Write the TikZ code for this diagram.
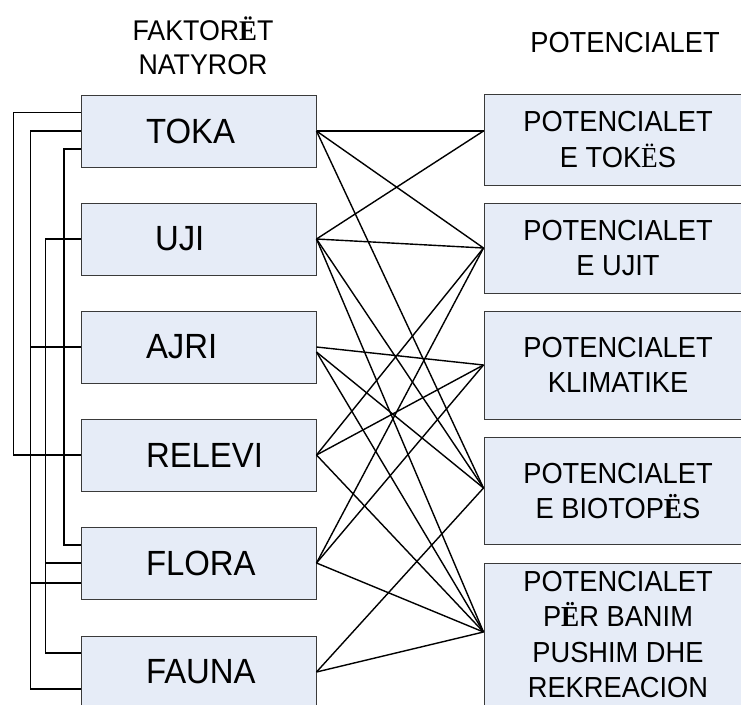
\documentclass[tikz,border=0pt]{standalone}
\usepackage{fontspec}
\setmainfont{Liberation Sans}[FakeStretch=0.94]
\newfontfamily\serifE{Liberation Serif}[FakeStretch=0.94]
\newcommand{\EdB}{{\serifE\bfseries Ë}}
\newcommand{\EdR}{{\serifE Ë}}
\newcommand{\lefttext}[2]{\makebox[235pt][l]{\hspace{#1}#2}}
\definecolor{boxfill}{HTML}{E6ECF7}
\definecolor{boxline}{HTML}{3A3A3A}
\begin{document}
\begin{tikzpicture}[x=1pt,y=-1pt,
  lbox/.style={draw=boxline, line width=1pt, fill=boxfill, minimum width=235pt,
    minimum height=72pt, inner sep=0pt, font=\fontsize{35}{42}\selectfont},
  rbox/.style={draw=boxline, line width=1pt, fill=boxfill, minimum width=268pt,
    inner sep=0pt, align=center, font=\fontsize{29}{35.5}\selectfont},
  conn/.style={line width=1.4pt, black},
  bus/.style={line width=1.4pt, black},
  titletext/.style={inner sep=0pt, align=center}]
\path[fill=white, use as bounding box] (0,0) rectangle (741,704);

% titles
\node[titletext, anchor=south, font=\fontsize{28.5}{34}\selectfont] (tleft) at (203,75) {FAKTOR\EdB T\\NATYROR};
\node[titletext, font=\fontsize{29}{35}\selectfont] (tright) at (625,43) {POTENCIALET};

% left boxes
\node[lbox] (toka)   at (198.5,131) {\lefttext{65pt}{TOKA}};
\node[lbox] (uji)    at (198.5,239) {\lefttext{74pt}{UJI}};
\node[lbox] (ajri)   at (198.5,347) {\lefttext{65pt}{AJRI}};
\node[lbox] (relevi) at (198.5,455) {\lefttext{65pt}{RELEVI}};
\node[lbox] (flora)  at (198.5,563) {\lefttext{65pt}{FLORA}};
\node[lbox] (fauna)  at (198.5,672) {\lefttext{65pt}{FAUNA}};

% right boxes
\node[rbox, minimum height=91pt]  (r1) at (618,139.5) {POTENCIALET\\E TOK\EdR S};
\node[rbox, minimum height=90pt]  (r2) at (618,248) {POTENCIALET\\E UJIT};
\node[rbox, minimum height=108pt] (r3) at (618,365) {POTENCIALET\\KLIMATIKE};
\node[rbox, minimum height=107pt] (r4) at (618,491) {POTENCIALET\\E BIOTOP\EdB S};
\node[rbox, minimum height=143pt] (r5) at (618,634.5) {POTENCIALET\\P\EdB R BANIM\\PUSHIM DHE\\REKREACION};

% connection points on the right boxes
\coordinate (p1) at ([yshift=8.5pt]r1.west);
\coordinate (p2) at (r2.west);
\coordinate (p3) at (r3.west);
\coordinate (p4) at ([yshift=3pt]r4.west);
\coordinate (p5) at ([yshift=2.5pt]r5.west);
\coordinate (ajrilow) at ([yshift=-5pt]ajri.east);

% crossing connectors
\draw[conn] (toka.east) -- (p1);
\draw[conn] (toka.east) -- (p2);
\draw[conn] (toka.east) -- (p4);
\draw[conn] (uji.east) -- (p1);
\draw[conn] (uji.east) -- (p2);
\draw[conn] (uji.east) -- (p4);
\draw[conn] (uji.east) -- (p5);
\draw[conn] (ajri.east) -- (p3);
\draw[conn] (ajrilow) -- (p4);
\draw[conn] (ajrilow) -- (p5);
\draw[conn] (relevi.east) -- (p2);
\draw[conn] (relevi.east) -- (p3);
\draw[conn] (relevi.east) -- (p5);
\draw[conn] (flora.east) -- (p2);
\draw[conn] (flora.east) -- (p3);
\draw[conn] (flora.east) -- (p5);
\draw[conn] (fauna.east) -- (p4);
\draw[conn] (fauna.east) -- (p5);

% left side bus lines
\draw[bus] ([yshift=18.3pt]toka.west) -- ++(-67,0) |- (relevi.west);
\draw[bus] (toka.west) -- ++(-50,0) |- ([yshift=-17pt]fauna.west);
\draw[bus] (ajri.west) -- ++(-50,0);
\draw[bus] ([yshift=-20pt]flora.west) -- ++(-50,0);
\draw[bus] (uji.west) -- ++(-35.3,0) |- ([yshift=19pt]fauna.west);
\draw[bus] (flora.west) -- ++(-35.3,0);
\draw[bus] ([yshift=-18pt]toka.west) -- ++(-16.7,0) |- ([yshift=18pt]flora.west);
\end{tikzpicture}
\end{document}
